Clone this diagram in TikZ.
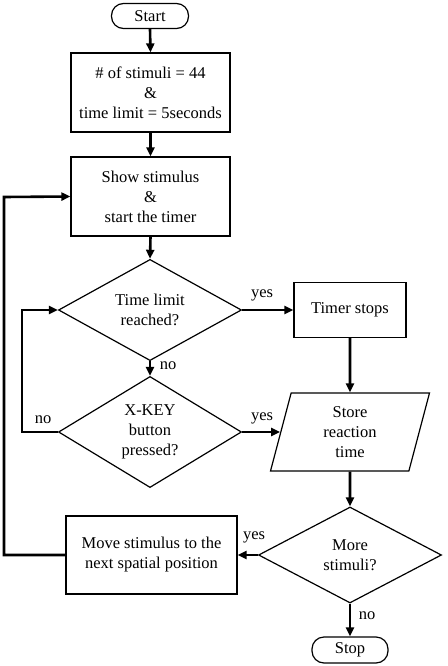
\documentclass[tikz,border=0pt]{standalone}
\usepackage{fontspec}
\setmainfont{Liberation Serif}
\usetikzlibrary{shapes.geometric,arrows.meta}
\begin{document}
\begin{tikzpicture}[x=1pt,y=-1pt,
  every node/.style={font=\fontsize{16.5}{20}\selectfont, align=center, inner sep=0pt},
  box/.style={draw, line width=1.2pt, rectangle},
  term/.style={draw, line width=1.2pt, rectangle, rounded corners=12pt},
  dec/.style={draw, line width=1.2pt, diamond, minimum width=183pt, minimum height=96pt},
  io/.style={draw, line width=1.2pt, trapezium, trapezium left angle=68, trapezium right angle=112, trapezium stretches body, minimum width=159pt, minimum height=78pt},
  arr/.style={line width=2.6pt, -{Triangle[length=9pt,width=8pt]}},
  lab/.style={fill=none}]
\useasboundingbox (0,0) rectangle (447,666);
\node[term, minimum width=77pt, minimum height=25pt] (start) at (150,16) {Start};
\node[box, minimum width=159pt, minimum height=79pt] (b1) at (150.5,92.5) {\# of stimuli = 44\\\&\\time limit = 5seconds};
\node[box, minimum width=159pt, minimum height=79pt] (b2) at (150.5,196.5) {Show stimulus\\\&\\start the timer};
\node[dec] (d1) at (150,310) {Time limit\\reached?};
\node[box, minimum width=112pt, minimum height=55pt] (ts) at (350,310) {Timer stops};
\node[dec] (d2) at (150,432) {X-KEY\\button\\pressed?};
\node[io] (st) at (350,432) {Store\\reaction\\time};
\node[dec] (d3) at (350,555) {More\\stimuli?};
\node[box, minimum width=171pt, minimum height=78pt] (mv) at (151.5,555) {Move stimulus to the\\next spatial position};
\node[term, minimum width=76pt, minimum height=26pt] (stop) at (350,650) {Stop};
\coordinate (l1a) at (22,432);
\coordinate (l1b) at (22,310);
\coordinate (l2a) at (4,555);
\coordinate (l2b) at (4,197);
\draw[arr] (start.south) -- (b1.north);
\draw[arr] (b1.south) -- (b2.north);
\draw[arr] (b2.south) -- (d1.north);
\draw[arr] (d1.east) -- (ts.west);
\draw[arr] (d1.south) -- (d2.north);
\draw[arr] (d2.west) -- (l1a) -- (l1b) -- (d1.west);
\draw[arr] (d2.east) -- (st.west);
\draw[arr] (ts.south) -- (st.north);
\draw[arr] (st.south) -- (d3.north);
\draw[arr] (d3.west) -- (mv.east);
\draw[arr] (mv.west) -- (l2a) -- (l2b) -- (b2.west);
\draw[arr] (d3.south) -- (stop.north);
\node[lab] (y1) at (262,295) {yes};
\node[lab] (n1) at (168,366) {no};
\node[lab] (n2) at (43,420) {no};
\node[lab] (y2) at (262,418) {yes};
\node[lab] (y3) at (254,537) {yes};
\node[lab] (n3) at (367,616) {no};
\end{tikzpicture}
\end{document}
